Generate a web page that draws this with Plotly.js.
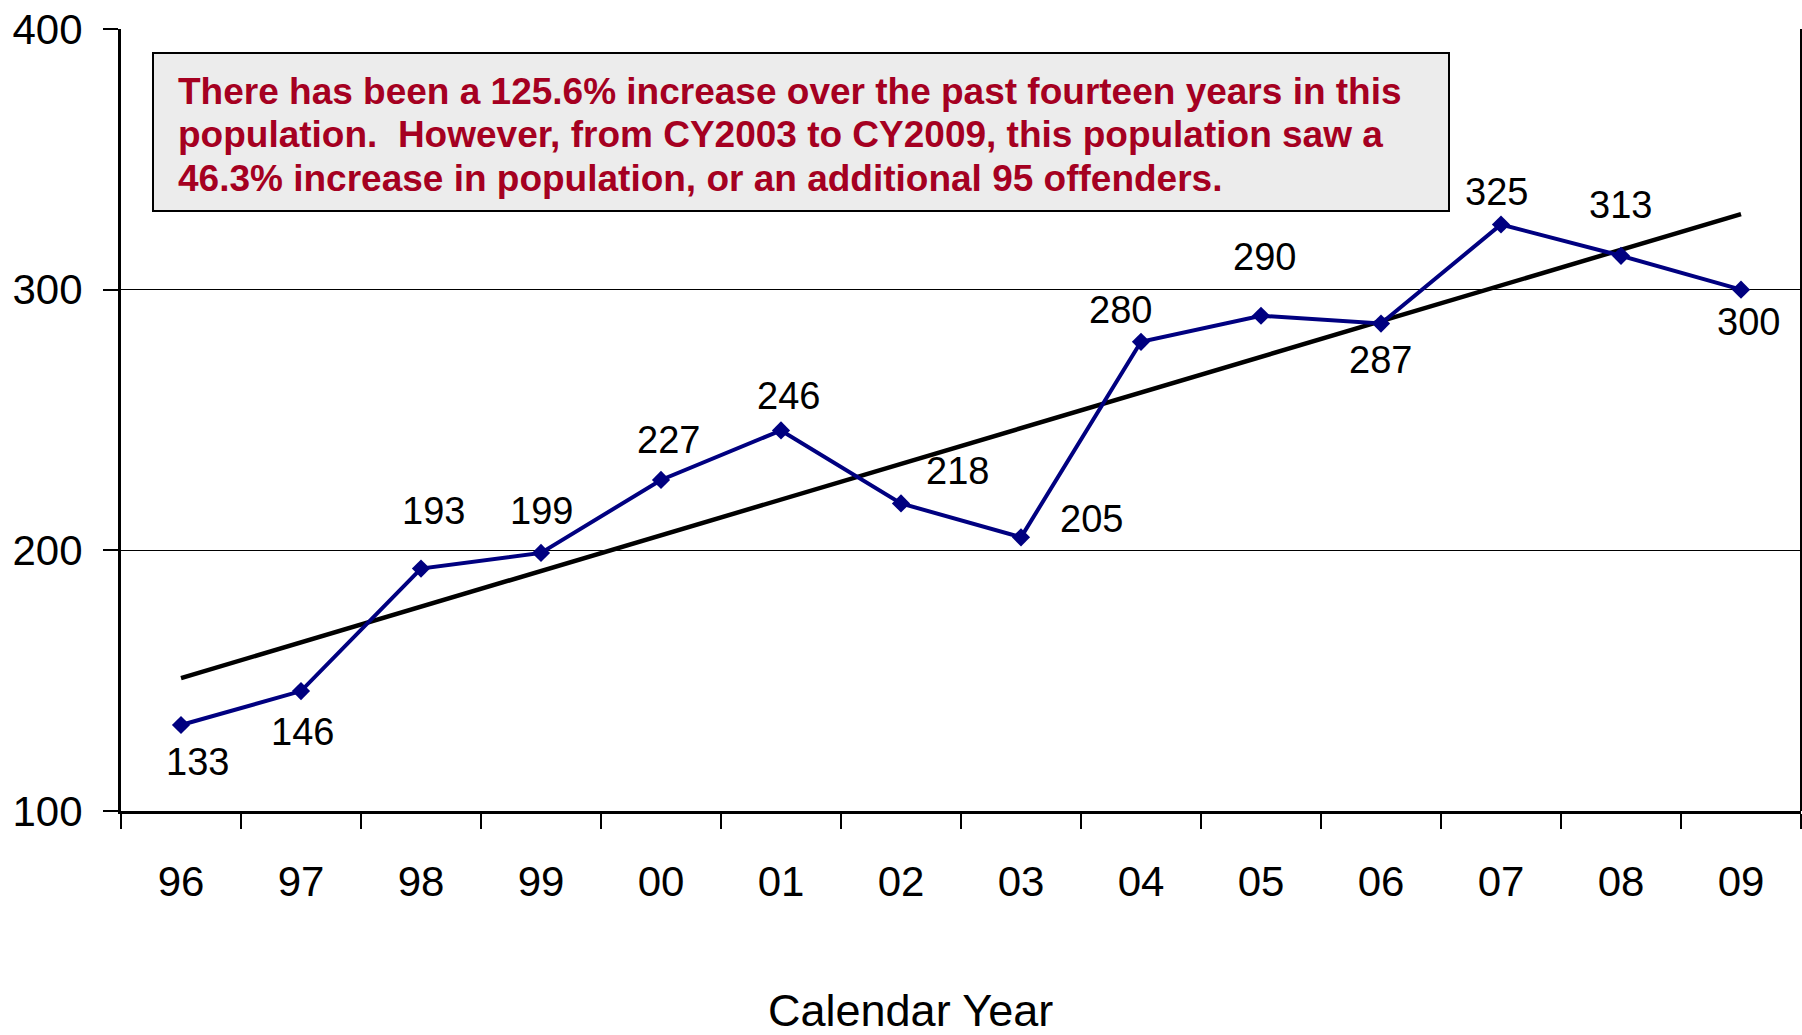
<!DOCTYPE html>
<html>
<head>
<meta charset="utf-8">
<script src="https://cdn.plot.ly/plotly-3.0.1.min.js"></script>
<style>
html,body{margin:0;padding:0;background:#fff;}
#chart{width:1802px;height:1035px;}
</style>
</head>
<body>
<div id="chart"></div>
<script>
// ---- data ----
const years = ['96','97','98','99','00','01','02','03','04','05','06','07','08','09'];
const population = [133,146,193,199,227,246,218,205,280,290,287,325,313,300];
const trendYears = ['96','09'];
const trendValues = [151,329];
const yTicks = [100,200,300,400];
const noteLines = [
  'There has been a 125.6% increase over the past fourteen years in this',
  'population.  However, from CY2003 to CY2009, this population saw a',
  '46.3% increase in population, or an additional 95 offenders.'
];
const xTitle = 'Calendar Year';

// ---- presentation ----
const narrow = '"Liberation Sans Narrow", "Arial Narrow", "Liberation Sans", Arial, sans-serif';
const labelShift = [[16,-37],[1,-41],[12,58],[0,42],[7,40],[7,34],[56,32],[70,18],[-21,32],[3,59],[-1,-36],[-5,33],[-1,51],[7,-32]];
const noteLineY = [91, 134, 179];

const L = 121, R = 1801, T = 29, B = 811, W = 1802, H = 1035;
const px = x => (x - L) / (R - L);
const py = y => (B - y) / (B - T);

const traces = [
  {
    x: trendYears, y: trendValues, type: 'scatter', mode: 'lines',
    line: {color: '#000000', width: 4.5}, hoverinfo: 'skip', showlegend: false
  },
  {
    x: years, y: population, type: 'scatter', mode: 'lines+markers',
    line: {color: '#000080', width: 4},
    marker: {symbol: 'diamond', size: 14, color: '#000080'},
    showlegend: false
  }
];

const annotations = population.map((v, i) => ({
  x: years.indexOf(years[i]), y: v, xref: 'x', yref: 'y', text: String(v), showarrow: false,
  xshift: labelShift[i][0], yshift: labelShift[i][1],
  font: {family: narrow, size: 38, color: '#000000'}
}));
noteLines.forEach((t, i) => annotations.push({
  xref: 'paper', yref: 'paper', x: px(176), y: py(noteLineY[i]), xanchor: 'left', yanchor: 'middle',
  align: 'left', showarrow: false, text: t,
  font: {family: '"Liberation Sans", Arial, sans-serif', size: 37, color: '#A50021', weight: 'bold'}
}));
annotations.push({
  xref: 'paper', yref: 'paper', x: px(910), y: py(1010), xanchor: 'center', yanchor: 'middle',
  showarrow: false, text: xTitle,
  font: {family: narrow, size: 45, color: '#000000'}
});

const layout = {
  width: W, height: H,
  margin: {l: L, r: W - R, t: T, b: H - B, pad: 0},
  paper_bgcolor: '#ffffff', plot_bgcolor: '#ffffff',
  showlegend: false,
  xaxis: {
    type: 'category', categoryorder: 'array', categoryarray: years,
    range: [-0.5, years.length - 0.5],
    showline: true, linecolor: '#000000', linewidth: 3,
    ticks: 'outside', tickson: 'boundaries', ticklen: 15, tickwidth: 2, tickcolor: '#000000',
    showgrid: false, zeroline: false,
    tickfont: {family: narrow, size: 42, color: '#000000'},
    ticklabelstandoff: 32
  },
  yaxis: {
    range: [100, 400], tickvals: yTicks, ticktext: yTicks.map(String),
    showline: true, linecolor: '#000000', linewidth: 3,
    ticks: 'outside', ticklen: 15, tickwidth: 2, tickcolor: '#000000',
    showgrid: true, gridcolor: '#000000', gridwidth: 1.5, zeroline: false,
    tickfont: {family: narrow, size: 42, color: '#000000'},
    ticklabelstandoff: 12
  },
  shapes: [
    {type: 'rect', xref: 'paper', yref: 'paper', x0: px(153), x1: px(1449), y0: py(211), y1: py(53),
     fillcolor: '#ECECEC', line: {color: '#000000', width: 2}, layer: 'below'},
    {type: 'line', xref: 'paper', yref: 'paper', x0: 1, x1: 1, y0: 0, y1: 1,
     line: {color: '#000000', width: 2}}
  ],
  annotations: annotations
};

Plotly.newPlot('chart', traces, layout, {displayModeBar: false, staticPlot: true});
</script>
</body>
</html>
